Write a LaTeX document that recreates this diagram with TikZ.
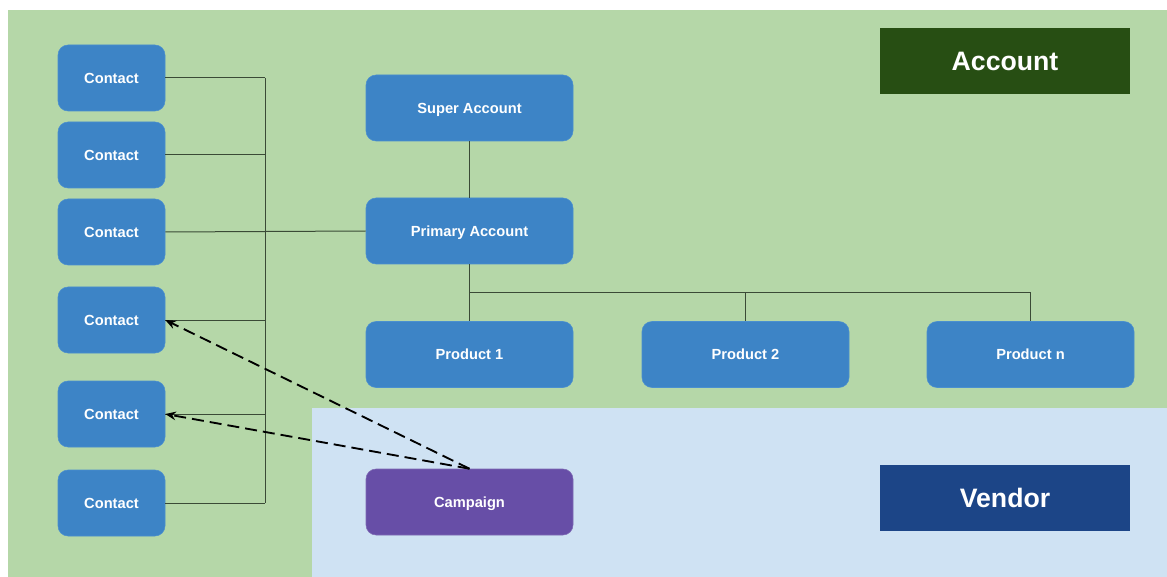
\documentclass[tikz,border=0pt]{standalone}
\usepackage{fontspec}
\setmainfont{Liberation Sans}
\usetikzlibrary{arrows.meta}
\definecolor{acctbg}{HTML}{B5D7A8}
\definecolor{vendbg}{HTML}{CFE2F3}
\definecolor{boxblue}{HTML}{3D84C6}
\definecolor{boxedge}{HTML}{4A8FCF}
\definecolor{campaign}{HTML}{674EA7}
\definecolor{acctdark}{HTML}{274E13}
\definecolor{venddark}{HTML}{1C4587}
\definecolor{wire}{HTML}{3A4A36}
\tikzset{
  entity/.style={rectangle, rounded corners=7.5pt, fill=boxblue, draw=boxedge, line width=0.4pt,
    text=white, font=\fontsize{11}{13}\selectfont\bfseries,
    text height=7.9pt, text depth=0pt,
    minimum width=155.25pt, minimum height=49.5pt, inner sep=0pt},
  contact/.style={entity, minimum width=80.25pt},
  campaignbox/.style={entity, fill=campaign, draw=campaign!85!white},
  tag/.style={rectangle, text=white, font=\fontsize{20}{24}\selectfont\bfseries,
    text height=14.4pt, text depth=0pt,
    minimum width=187.5pt, minimum height=49.5pt, inner sep=0pt},
  link/.style={draw=wire, line width=0.75pt},
  assign/.style={draw=black, line width=1.4pt, dash pattern=on 9pt off 4.5pt, -{Stealth[length=8pt,width=6.5pt]}}
}
\begin{document}
\begin{tikzpicture}[x=0.75pt, y=-0.75pt]
\useasboundingbox (0,0) rectangle (1167,577);
% domain backgrounds
\fill[acctbg] (8,10) rectangle (1167,577);
\fill[vendbg] (312,408) rectangle (1167,577);
% domain labels
\node[tag, fill=acctdark] (acct) at (1005,61) {Account};
\node[tag, fill=venddark] (vend) at (1005,497.5) {Vendor};
% contacts
\node[contact] (c1) at (111.5,78) {Contact};
\node[contact] (c2) at (111.5,155) {Contact};
\node[contact] (c3) at (111.5,232) {Contact};
\node[contact] (c4) at (111.5,320) {Contact};
\node[contact] (c5) at (111.5,414) {Contact};
\node[contact] (c6) at (111.5,503) {Contact};
% accounts and products
\node[entity] (sa) at (469.5,108) {Super Account};
\node[entity] (pa) at (469.5,231) {Primary Account};
\node[entity] (p1) at (469.5,354.5) {Product 1};
\node[entity] (p2) at (745.5,354.5) {Product 2};
\node[entity] (pn) at (1030.5,354.5) {Product n};
\node[campaignbox] (cp) at (469.5,502) {Campaign};
% contact bus
\coordinate (bus) at (265,0);
\coordinate (branch) at (469.5,293);
\foreach \c in {c1,c2,c4,c5,c6} \draw[link] (\c.east) -- (\c.east -| bus);
\draw[link] (c3.east) -- (pa.west);
\draw[link] (bus |- c1.east) -- (bus |- c6.east);
% account hierarchy
\draw[link] (sa.south) -- (pa.north);
\draw[link] (pa.south) -- (p1.north);
\draw[link] (branch) -| (p2.north);
\draw[link] (branch) -| (pn.north);
% campaign targets
\draw[assign] (cp.north) -- (c4.east);
\draw[assign] (cp.north) -- (c5.east);
\end{tikzpicture}
\end{document}
